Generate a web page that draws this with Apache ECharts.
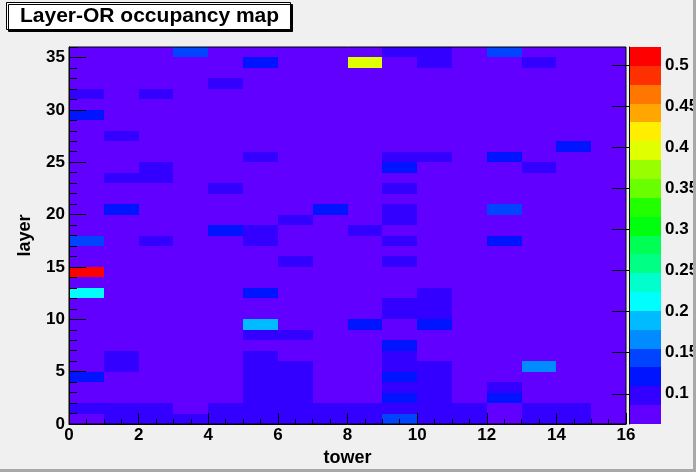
<!DOCTYPE html>
<html>
<head>
<meta charset="utf-8">
<script src="https://cdn.jsdelivr.net/npm/echarts@6/dist/echarts.min.js"></script>
<style>
  html, body { margin: 0; padding: 0; background: #f0f0f0; }
  #main { width: 696px; height: 472px; }
</style>
</head>
<body>
<div id="main"></div>
<script>
// Layer-OR occupancy, one row per layer (layer 0 first), 16 towers per row
var layerRows = [
  [.075,.098,.098,.098,.098,.098,.098,.098,.098,.143,.098,.098,.075,.098,.098,.075], // 0
  [.098,.098,.098,.075,.098,.098,.098,.098,.098,.098,.098,.098,.075,.098,.098,.075], // 1
  [.075,.075,.075,.075,.075,.098,.098,.075,.075,.120,.098,.075,.120,.075,.075,.075], // 2
  [.075,.075,.075,.075,.075,.098,.098,.075,.075,.098,.098,.075,.098,.075,.075,.075], // 3
  [.120,.075,.075,.075,.075,.098,.098,.075,.075,.120,.098,.075,.075,.075,.075,.075], // 4
  [.075,.098,.075,.075,.075,.098,.098,.075,.075,.098,.098,.075,.075,.166,.075,.075], // 5
  [.075,.098,.075,.075,.075,.098,.075,.075,.075,.098,.075,.075,.075,.075,.075,.075], // 6
  [.075,.075,.075,.075,.075,.075,.075,.075,.075,.120,.075,.075,.075,.075,.075,.075], // 7
  [.075,.075,.075,.075,.075,.098,.098,.075,.075,.075,.075,.075,.075,.075,.075,.075], // 8
  [.075,.075,.075,.075,.075,.190,.075,.075,.120,.075,.120,.075,.075,.075,.075,.075], // 9
  [.075,.075,.075,.075,.075,.075,.075,.075,.075,.098,.098,.075,.075,.075,.075,.075], // 10
  [.075,.075,.075,.075,.075,.075,.075,.075,.075,.098,.098,.075,.075,.075,.075,.075], // 11
  [.212,.075,.075,.075,.075,.120,.075,.075,.075,.075,.098,.075,.075,.075,.075,.075], // 12
  [.075,.075,.075,.075,.075,.075,.075,.075,.075,.075,.075,.075,.075,.075,.075,.075], // 13
  [.522,.075,.075,.075,.075,.075,.075,.075,.075,.075,.075,.075,.075,.075,.075,.075], // 14
  [.075,.075,.075,.075,.075,.075,.098,.075,.075,.098,.075,.075,.075,.075,.075,.075], // 15
  [.075,.075,.075,.075,.075,.075,.075,.075,.075,.075,.075,.075,.075,.075,.075,.075], // 16
  [.143,.075,.098,.075,.075,.098,.075,.075,.075,.098,.075,.075,.120,.075,.075,.075], // 17
  [.075,.075,.075,.075,.120,.098,.075,.075,.098,.075,.075,.075,.075,.075,.075,.075], // 18
  [.075,.075,.075,.075,.075,.075,.098,.075,.075,.098,.075,.075,.075,.075,.075,.075], // 19
  [.075,.120,.075,.075,.075,.075,.075,.120,.075,.098,.075,.075,.143,.075,.075,.075], // 20
  [.075,.075,.075,.075,.075,.075,.075,.075,.075,.075,.075,.075,.075,.075,.075,.075], // 21
  [.075,.075,.075,.075,.098,.075,.075,.075,.075,.098,.075,.075,.075,.075,.075,.075], // 22
  [.075,.098,.098,.075,.075,.075,.075,.075,.075,.075,.075,.075,.075,.075,.075,.075], // 23
  [.075,.075,.098,.075,.075,.075,.075,.075,.075,.120,.075,.075,.075,.098,.075,.075], // 24
  [.075,.075,.075,.075,.075,.098,.075,.075,.075,.098,.098,.075,.120,.075,.075,.075], // 25
  [.075,.075,.075,.075,.075,.075,.075,.075,.075,.075,.075,.075,.075,.075,.120,.075], // 26
  [.075,.098,.075,.075,.075,.075,.075,.075,.075,.075,.075,.075,.075,.075,.075,.075], // 27
  [.075,.075,.075,.075,.075,.075,.075,.075,.075,.075,.075,.075,.075,.075,.075,.075], // 28
  [.120,.075,.075,.075,.075,.075,.075,.075,.075,.075,.075,.075,.075,.075,.075,.075], // 29
  [.075,.075,.075,.075,.075,.075,.075,.075,.075,.075,.075,.075,.075,.075,.075,.075], // 30
  [.098,.075,.098,.075,.075,.075,.075,.075,.075,.075,.075,.075,.075,.075,.075,.075], // 31
  [.075,.075,.075,.075,.098,.075,.075,.075,.075,.075,.075,.075,.075,.075,.075,.075], // 32
  [.075,.075,.075,.075,.075,.075,.075,.075,.075,.075,.075,.075,.075,.075,.075,.075], // 33
  [.075,.075,.075,.075,.075,.120,.075,.075,.395,.075,.098,.075,.075,.098,.075,.075], // 34
  [.075,.075,.075,.143,.075,.075,.075,.075,.075,.098,.098,.075,.143,.075,.075,.075]  // 35
];

// colour scale (ROOT pretty palette, 20 contours)
var zMin = 0.0632;
var zMax = 0.522;
var palette = [
  '#6200ff', '#3300ff', '#0014ff', '#0044ff', '#008bff',
  '#00bbff', '#00fffc', '#00ffcc', '#00ff85', '#00ff55',
  '#00ff0e', '#22ff00', '#69ff00', '#99ff00', '#e0ff00',
  '#ffee00', '#ffa700', '#ff7700', '#ff3000', '#ff0000'
];
var barTicks = [0.1, 0.15, 0.2, 0.25, 0.3, 0.35, 0.4, 0.45, 0.5];
var layerMinorTicks = [];
for (var t = 0; t <= 36; t++) layerMinorTicks.push(t);

var cells = [];
layerRows.forEach(function (row, layer) {
  row.forEach(function (v, tower) { cells.push([tower, layer, v]); });
});

var step = (zMax - zMin) / palette.length;
var pieces = palette.map(function (c, k) {
  var p = { gte: zMin + k * step, color: c };
  if (k < palette.length - 1) p.lt = zMin + (k + 1) * step; else p.lte = zMax + 1e-9;
  return p;
});
var bands = palette.map(function (c, k) {
  var lo = zMin + k * step, hi = zMin + (k + 1) * step;
  return [0, lo, (lo + hi) / 2, hi];
});

var font = 'Liberation Sans, Arial, sans-serif';

// snapped rectangle between two data corners, so neighbouring cells leave no seams
function cellRect(api, a, b) {
  var p0 = api.coord(a), p1 = api.coord(b);
  var x0 = Math.round(p0[0]), y0 = Math.round(p0[1]);
  var x1 = Math.round(p1[0]), y1 = Math.round(p1[1]);
  return { x: x0, y: y0, width: x1 - x0, height: y1 - y0 };
}

var chartDom = document.getElementById('main');
var myChart = echarts.init(chartDom);

var option = {
  backgroundColor: '#f0f0f0',
  animation: false,
  title: {
    text: 'Layer-OR occupancy map',
    left: 6,
    top: 3,
    padding: [3, 12, 3, 14],
    backgroundColor: '#fff',
    borderColor: '#000',
    borderWidth: 1,
    shadowColor: '#000',
    shadowOffsetX: 2,
    shadowOffsetY: 2,
    shadowBlur: 0,
    textStyle: { fontFamily: font, fontSize: 21, fontWeight: 'bold', color: '#000', lineHeight: 20 }
  },
  grid: [
    { left: 69, top: 47, width: 557, height: 377, show: true, z: 10, outerBoundsMode: 'none',
      borderColor: '#000', borderWidth: 1, backgroundColor: 'transparent' },
    { left: 629, top: 47, width: 32, height: 377, outerBoundsMode: 'none' }
  ],
  xAxis: [
    {
      gridIndex: 0, type: 'value', min: 0, max: 16, interval: 2, z: 10,
      name: 'tower', nameLocation: 'middle', nameGap: 22,
      nameTextStyle: { fontFamily: font, fontSize: 18, fontWeight: 'bold', color: '#000' },
      axisLine: { lineStyle: { color: '#000', width: 1 } },
      axisTick: { inside: true, length: 11, lineStyle: { color: '#000' } },
      minorTick: { show: true, splitNumber: 4, length: 5, lineStyle: { color: '#000' } },
      axisLabel: { fontFamily: font, fontSize: 17, fontWeight: 'bold', color: '#000', margin: 3 },
      splitLine: { show: false }
    },
    { gridIndex: 1, type: 'value', min: 0, max: 1, show: false }
  ],
  yAxis: [
    {
      gridIndex: 0, type: 'value', min: 0, max: 36, interval: 5, z: 10,
      name: 'layer', nameLocation: 'middle', nameGap: 35,
      nameTextStyle: { fontFamily: font, fontSize: 18, fontWeight: 'bold', color: '#000' },
      axisLine: { show: true, lineStyle: { color: '#000', width: 1 } },
      axisTick: { inside: true, length: 17, lineStyle: { color: '#000' } },
      axisLabel: { fontFamily: font, fontSize: 17, fontWeight: 'bold', color: '#000', margin: 4,
        showMaxLabel: false },
      splitLine: { show: false }
    },
    {
      // minor ticks of the layer axis, moved onto the left frame edge
      gridIndex: 0, type: 'value', min: 0, max: 36, position: 'right', offset: -557, z: 10,
      axisLine: { show: false },
      axisTick: { show: true, inside: false, length: 8, customValues: layerMinorTicks,
        lineStyle: { color: '#000' } },
      axisLabel: { show: false },
      splitLine: { show: false }
    },
    {
      gridIndex: 1, type: 'value', min: zMin, max: zMax, position: 'right', z: 10,
      axisLine: { show: true, lineStyle: { color: '#000', width: 1 } },
      axisTick: { inside: true, length: 17, customValues: barTicks, lineStyle: { color: '#000' } },
      axisLabel: { customValues: barTicks, fontFamily: font, fontSize: 17, fontWeight: 'bold',
        color: '#000', margin: 4 },
      splitLine: { show: false }
    }
  ],
  visualMap: {
    type: 'piecewise',
    show: false,
    seriesIndex: [0, 1],
    dimension: 2,
    pieces: pieces
  },
  series: [
    {
      name: 'occupancy',
      type: 'custom',
      xAxisIndex: 0,
      yAxisIndex: 0,
      encode: { x: 0, y: 1 },
      data: cells,
      renderItem: function (params, api) {
        var x = api.value(0), y = api.value(1);
        return {
          type: 'rect',
          shape: cellRect(api, [x, y + 1], [x + 1, y]),
          style: { fill: api.visual('color') }
        };
      }
    },
    {
      name: 'palette',
      type: 'custom',
      xAxisIndex: 1,
      yAxisIndex: 2,
      encode: { x: 0, y: [1, 3] },
      data: bands,
      renderItem: function (params, api) {
        return {
          type: 'rect',
          shape: cellRect(api, [0, api.value(3)], [1, api.value(1)]),
          style: { fill: api.visual('color') }
        };
      }
    }
  ],
  graphic: [
    { type: 'rect', right: 0, top: 0, shape: { width: 3, height: 472 }, style: { fill: '#a8a8a8' }, z: 20 },
    { type: 'rect', left: 0, bottom: 0, shape: { width: 696, height: 3 }, style: { fill: '#a8a8a8' }, z: 20 }
  ]
};

myChart.setOption(option);

window.addEventListener('resize', () => myChart.resize());
</script>
</body>
</html>
